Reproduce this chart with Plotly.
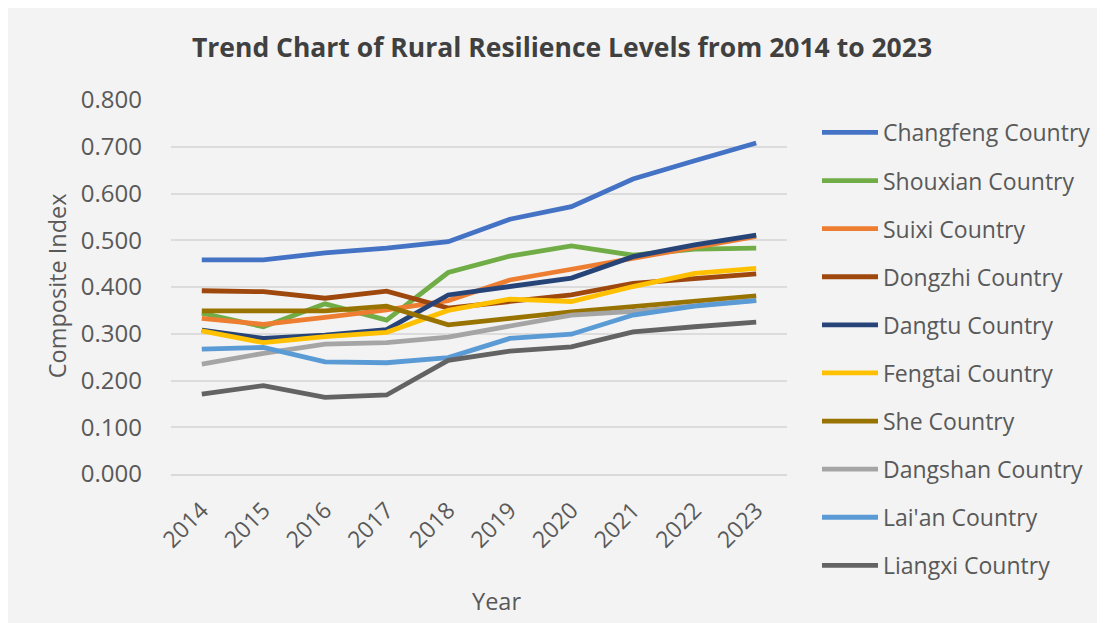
import plotly.graph_objects as go

years = ["2014", "2015", "2016", "2017", "2018", "2019", "2020", "2021", "2022", "2023"]

changfeng = [0.458, 0.458, 0.473, 0.483, 0.497, 0.545, 0.572, 0.631, 0.670, 0.708]
shouxian = [0.344, 0.315, 0.364, 0.329, 0.431, 0.466, 0.488, 0.468, 0.481, 0.483]
suixi = [0.333, 0.320, 0.335, 0.351, 0.371, 0.415, 0.438, 0.461, 0.486, 0.508]
dongzhi = [0.392, 0.390, 0.376, 0.391, 0.355, 0.369, 0.383, 0.408, 0.419, 0.428]
dangtu = [0.308, 0.290, 0.297, 0.309, 0.383, 0.402, 0.419, 0.465, 0.490, 0.511]
fengtai = [0.306, 0.281, 0.294, 0.303, 0.350, 0.374, 0.369, 0.401, 0.429, 0.440]
she = [0.349, 0.348, 0.349, 0.359, 0.319, 0.333, 0.347, 0.358, 0.369, 0.381]
dangshan = [0.235, 0.258, 0.278, 0.281, 0.293, 0.317, 0.340, 0.348, 0.360, 0.372]
laian = [0.267, 0.271, 0.240, 0.238, 0.249, 0.290, 0.299, 0.340, 0.359, 0.371]
liangxi = [0.171, 0.189, 0.164, 0.169, 0.243, 0.263, 0.272, 0.304, 0.315, 0.325]

series_names = ["Changfeng Country", "Shouxian Country", "Suixi Country", "Dongzhi Country",
                "Dangtu Country", "Fengtai Country", "She Country", "Dangshan Country",
                "Lai'an Country", "Liangxi Country"]
series_values = [changfeng, shouxian, suixi, dongzhi, dangtu, fengtai, she, dangshan, laian, liangxi]
colors = ["#4472C4", "#70AD47", "#ED7D31", "#9E480E", "#264478",
          "#FFC000", "#997300", "#A5A5A5", "#5B9BD5", "#636363"]

y_ticks = [0.0, 0.1, 0.2, 0.3, 0.4, 0.5, 0.6, 0.7, 0.8]

FONT = "Open Sans"
TXT = "#595959"

fig = go.Figure()
for i, (name, vals, col) in enumerate(zip(series_names, series_values, colors)):
    fig.add_trace(go.Scatter(
        x=years, y=vals, name=name, mode="lines",
        line=dict(color=col, width=4.8),
        legendgroup=f"g{i}",
    ))

fig.update_layout(
    width=1105, height=623,
    paper_bgcolor="#F3F3F3", plot_bgcolor="#F3F3F3",
    margin=dict(l=163, r=326, t=92, b=157),
    font=dict(family=FONT, color=TXT),
    title=dict(
        text="<b>Trend Chart of Rural Resilience Levels from 2014 to 2023</b>",
        x=554 / 1105, xanchor="center", xref="container",
        y=1 - 40 / 623, yanchor="middle", yref="container",
        font=dict(family=FONT, size=26.5, color="#404040"),
    ),
    showlegend=True,
    legend=dict(
        xref="container", yref="container",
        x=809 / 1105, xanchor="left",
        y=1 - 103 / 623, yanchor="top",
        font=dict(family=FONT, size=23, color=TXT),
        bgcolor="rgba(0,0,0,0)",
        tracegroupgap=15.2,
        itemwidth=56,
        traceorder="grouped",
        maxheight=600,
    ),
    xaxis=dict(
        type="category",
        range=[-0.5, 9.5],
        tickangle=-45,
        showgrid=False,
        showline=True, linecolor="#D9D9D9", linewidth=1.5,
        ticks="",
        tickfont=dict(family=FONT, size=23, color=TXT),
        ticklabelstandoff=12,
    ),
    yaxis=dict(
        range=[0, 0.8],
        tickvals=y_ticks,
        tickformat=".3f",
        showgrid=True, gridcolor="#DCDCDC", gridwidth=1.5,
        zeroline=False,
        showline=False,
        ticks="",
        tickfont=dict(family=FONT, size=24, color=TXT),
        ticklabelstandoff=28,
    ),
    annotations=[
        dict(text="Year", xref="paper", yref="paper",
             x=(488 - 163) / 616, y=(466 - 593) / 373.5,
             xanchor="center", yanchor="middle", showarrow=False,
             font=dict(family=FONT, size=23.5, color=TXT)),
        dict(text="Composite Index", xref="paper", yref="paper",
             x=(49 - 163) / 616, y=(466 - 278.5) / 373.5,
             xanchor="center", yanchor="middle", showarrow=False, textangle=-90,
             font=dict(family=FONT, size=23.5, color=TXT)),
    ],
)

fig.write_html("out.html")
